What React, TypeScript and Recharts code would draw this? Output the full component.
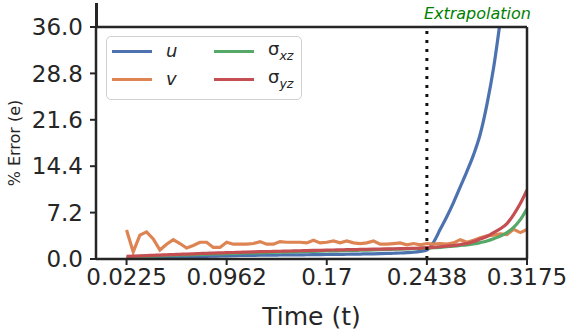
import { LineChart, Line, XAxis, YAxis, ReferenceLine } from 'recharts';

// time samples (t)
const time = [
  0.0225, 0.02742, 0.03233, 0.03725, 0.04217, 0.04708, 0.052, 0.05692, 0.06183, 0.06675,
  0.07167, 0.07658, 0.0815, 0.08642, 0.09133, 0.09625, 0.10117, 0.10608, 0.111, 0.11592,
  0.12083, 0.12575, 0.13067, 0.13558, 0.1405, 0.14542, 0.15033, 0.15525, 0.16017, 0.16508,
  0.17, 0.17492, 0.17983, 0.18475, 0.18967, 0.19458, 0.1995, 0.20442, 0.20933, 0.21425,
  0.21917, 0.22408, 0.229, 0.23392, 0.23883, 0.24375, 0.24867, 0.25358, 0.2585, 0.26342,
  0.26833, 0.27325, 0.27817, 0.28308, 0.288, 0.29292, 0.29783, 0.30275, 0.30767, 0.31258,
  0.3175,
];

// % error per field
const uErr = [
  0.15, 0.17, 0.19, 0.21, 0.23, 0.25, 0.28, 0.3, 0.33, 0.35,
  0.38, 0.4, 0.42, 0.45, 0.47, 0.5, 0.52, 0.54, 0.55, 0.57,
  0.58, 0.6, 0.61, 0.62, 0.63, 0.64, 0.65, 0.66, 0.67, 0.68,
  0.7, 0.71, 0.72, 0.74, 0.75, 0.77, 0.79, 0.81, 0.83, 0.86,
  0.89, 0.93, 0.98, 1.05, 1.18, 1.4, 2.6, 4.6, 6.6, 8.8,
  11.2, 13.6, 16.2, 19.4, 24.0, 29.7, 37, 45, 54, 64,
  76,
];
const vErr = [
  4.5, 1.1, 3.7, 4.2, 3.1, 1.4, 2.3, 3.0, 2.4, 1.7,
  2.1, 2.6, 2.6, 1.8, 1.8, 2.6, 2.3, 2.3, 2.3, 2.4,
  2.7, 2.3, 2.3, 2.7, 2.6, 2.6, 2.6, 2.5, 2.9, 2.5,
  2.6, 2.8, 2.5, 2.8, 2.5, 2.4, 2.5, 2.8, 2.3, 2.3,
  2.4, 2.5, 2.2, 2.4, 2.2, 2.4, 2.3, 2.4, 2.3, 2.5,
  3.0, 2.6, 2.9, 3.3, 3.6, 3.7, 3.9, 3.8, 4.6, 4.1,
  4.6,
];
const sxzErr = [
  0.3, 0.34, 0.38, 0.42, 0.46, 0.5, 0.54, 0.58, 0.62, 0.65,
  0.69, 0.72, 0.75, 0.78, 0.81, 0.84, 0.87, 0.9, 0.93, 0.96,
  0.99, 1.01, 1.04, 1.06, 1.09, 1.11, 1.14, 1.16, 1.19, 1.21,
  1.24, 1.26, 1.29, 1.31, 1.34, 1.36, 1.39, 1.42, 1.45, 1.48,
  1.51, 1.54, 1.57, 1.6, 1.65, 1.7, 1.75, 1.8, 1.9, 2.0,
  2.1, 2.2, 2.35, 2.55, 2.8, 3.15, 3.55, 4.1, 4.9, 6.1,
  7.8,
];
const syzErr = [
  0.4, 0.45, 0.49, 0.53, 0.57, 0.61, 0.65, 0.69, 0.73, 0.77,
  0.81, 0.85, 0.88, 0.92, 0.95, 0.98, 1.01, 1.04, 1.07, 1.1,
  1.13, 1.15, 1.18, 1.2, 1.23, 1.25, 1.28, 1.3, 1.33, 1.35,
  1.38, 1.4, 1.42, 1.44, 1.46, 1.48, 1.5, 1.52, 1.54, 1.56,
  1.58, 1.6, 1.63, 1.66, 1.7, 1.75, 1.8, 1.9, 2.0, 2.1,
  2.25, 2.4, 2.7, 3.1, 3.5, 4.1, 4.7, 5.5, 6.9, 8.6,
  10.7,
];

const xTicks = [0.0225, 0.09625, 0.17, 0.24375, 0.3175];
const xTickLabels = ['0.0225', '0.0962', '0.17', '0.2438', '0.3175'];
const yTicks = [0, 7.2, 14.4, 21.6, 28.8, 36];
const yTickLabels = ['0.0', '7.2', '14.4', '21.6', '28.8', '36.0'];
const extrapolationStart = 0.24375;

const data = time.map((t, i) => ({
  t,
  u: uErr[i],
  v: vErr[i],
  sxz: sxzErr[i],
  syz: syzErr[i],
}));

const ink = '#262626';
const font = '"DejaVu Sans", sans-serif';

const series = [
  { key: 'u', color: '#4c72b0', curve: 'monotone', label: <i>u</i> },
  { key: 'v', color: '#dd8452', curve: 'linear', label: <i>v</i> },
  { key: 'sxz', color: '#55a868', curve: 'monotone', label: <span>σ<sub style={{ fontStyle: 'italic', fontSize: '0.7em' }}>xz</sub></span> },
  { key: 'syz', color: '#c44e52', curve: 'monotone', label: <span>σ<sub style={{ fontStyle: 'italic', fontSize: '0.7em' }}>yz</sub></span> },
];

function LegendBox() {
  return (
    <div
      style={{
        position: 'absolute',
        left: 106,
        top: 36,
        width: 196,
        height: 64,
        boxSizing: 'border-box',
        border: '1.5px solid #d0d0d0',
        borderRadius: 5,
        background: 'rgba(255,255,255,0.85)',
      }}
    >
      {series.map((s, i) => {
        const col = Math.floor(i / 2);
        const row = i % 2;
        return (
          <div
            key={s.key}
            style={{
              position: 'absolute',
              left: 5 + col * 102,
              top: 14 + row * 28 - 12,
              height: 24,
              display: 'flex',
              alignItems: 'center',
              fontSize: 18,
              color: ink,
              lineHeight: 1,
            }}
          >
            <span style={{ display: 'inline-block', width: 40, height: 3, background: s.color, marginRight: 14 }} />
            {s.label}
          </div>
        );
      })}
    </div>
  );
}

export default function App() {
  return (
    <div style={{ position: 'absolute', left: 0, top: 0, width: 573, height: 336, fontFamily: font, background: '#fff' }}>
      <LineChart width={573} height={336} data={data} margin={{ top: 27, right: 46, bottom: 0, left: 10 }}>
        <XAxis
          type="number"
          dataKey="t"
          domain={[0, 0.3175]}
          ticks={xTicks}
          tickFormatter={(v: number) => xTickLabels[xTicks.indexOf(v)] ?? String(v)}
          allowDataOverflow
          height={77}
          axisLine={{ stroke: ink, strokeWidth: 2.5 }}
          tickLine={{ stroke: ink, strokeWidth: 2 }}
          tickSize={6}
          tickMargin={4}
          tick={{ fill: ink, fontSize: 23 }}
          label={(props: any) => (
            <text
              x={props.viewBox.x + props.viewBox.width / 2}
              y={325}
              textAnchor="middle"
              fill={ink}
              fontSize={25}
            >
              Time (t)
            </text>
          )}
        />
        <YAxis
          type="number"
          domain={[0, 36]}
          ticks={yTicks}
          tickFormatter={(v: number) => yTickLabels[yTicks.indexOf(v)] ?? String(v)}
          allowDataOverflow
          width={86}
          axisLine={{ stroke: ink, strokeWidth: 2.5 }}
          tickLine={{ stroke: ink, strokeWidth: 2 }}
          tickSize={6}
          tickMargin={7}
          tick={{ fill: ink, fontSize: 23 }}
          label={(props: any) => {
            const cy = props.viewBox.y + props.viewBox.height / 2;
            return (
              <text x={20} y={cy} transform={`rotate(-90, 20, ${cy})`} textAnchor="middle" fill={ink} fontSize={16}>
                % Error (e)
              </text>
            );
          }}
        />
        {series.map((s) => (
          <Line
            key={s.key}
            type={s.curve as any}
            dataKey={s.key}
            stroke={s.color}
            strokeWidth={3.2}
            dot={false}
            isAnimationActive={false}
          />
        ))}
        <ReferenceLine
          x={extrapolationStart}
          stroke="#111"
          strokeWidth={3}
          strokeDasharray="3 6"
          label={(props: any) => (
            <text
              x={props.viewBox.x - 3}
              y={props.viewBox.y - 8}
              fill="#008000"
              fontStyle="italic"
              fontSize={16}
            >
              Extrapolation
            </text>
          )}
        />
        <ReferenceLine y={36} stroke={ink} strokeWidth={2.5} />
        <ReferenceLine x={0.3175} stroke={ink} strokeWidth={2.5} />
      </LineChart>
      {/* left spine runs above the plot box */}
      <div style={{ position: 'absolute', left: 95, top: 3, width: 2.5, height: 25, background: ink }} />
      <LegendBox />
    </div>
  );
}
